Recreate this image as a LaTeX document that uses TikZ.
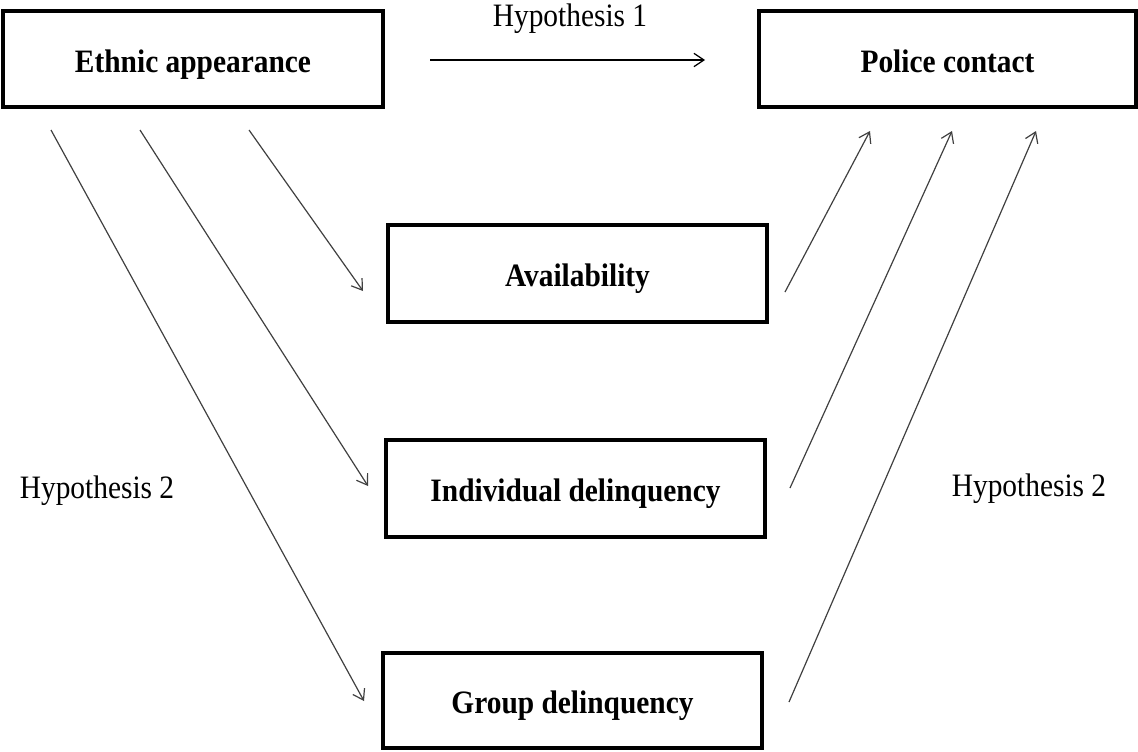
\documentclass[tikz,border=0pt]{standalone}
\usepackage{fontspec}
\setmainfont{Liberation Serif}[FakeStretch=0.9]
\usetikzlibrary{arrows.meta}
\begin{document}
\begin{tikzpicture}[x=0.75pt,y=-0.75pt,
  box/.style={draw=black,line width=2.6pt,fill=none,inner sep=0pt,
    text height=16pt,text depth=0pt,
    font=\fontsize{24.5}{28}\selectfont\bfseries},
  lbl/.style={inner sep=0pt,anchor=base,font=\fontsize{24.5}{28}\selectfont},
  conn/.style={draw=black!75,line width=0.9pt,
    -{Straight Barb[length=7.5pt,width=10pt,line width=0.9pt]}}]
\useasboundingbox (0,0) rectangle (1138,751);
% boxes
\node[box,minimum width=285pt,minimum height=72pt] (ea) at (193,59) {\raisebox{-2pt}{Ethnic appearance}};
\node[box,minimum width=282.75pt,minimum height=72pt] (pc) at (947.5,59) {\raisebox{-2pt}{Police contact}};
\node[box,minimum width=284.25pt,minimum height=72.75pt] (av) at (577.5,273.5) {\raisebox{-2pt}{Availability}};
\node[box,minimum width=284.25pt,minimum height=72.75pt] (id) at (575.5,488.5) {\raisebox{-2pt}{Individual delinquency}};
\node[box,minimum width=284.25pt,minimum height=71.25pt] (gd) at (572.5,700.5) {\raisebox{-2pt}{Group delinquency}};
% labels
\node[lbl] (h1) at (570,26) {Hypothesis 1};
\node[lbl] (h2l) at (97,498) {Hypothesis 2};
\node[lbl] (h2r) at (1029,496) {Hypothesis 2};
% connector end points
\coordinate (h1s) at (430,60);
\coordinate (h1e) at (705,60);
\coordinate (l1s) at (249,130);
\coordinate (l1e) at (363,291);
\coordinate (l2s) at (140,130);
\coordinate (l2e) at (368,486);
\coordinate (l3s) at (51,130);
\coordinate (l3e) at (364,701);
\coordinate (r1s) at (785,292);
\coordinate (r1e) at (870,131);
\coordinate (r2s) at (790,488);
\coordinate (r2e) at (952,131);
\coordinate (r3s) at (789,702);
\coordinate (r3e) at (1036,131);
% connectors
\draw[conn,draw=black] (h1s) -- (h1e);
\draw[conn] (l1s) -- (l1e);
\draw[conn] (l2s) -- (l2e);
\draw[conn] (l3s) -- (l3e);
\draw[conn] (r1s) -- (r1e);
\draw[conn] (r2s) -- (r2e);
\draw[conn] (r3s) -- (r3e);
\end{tikzpicture}
\end{document}
